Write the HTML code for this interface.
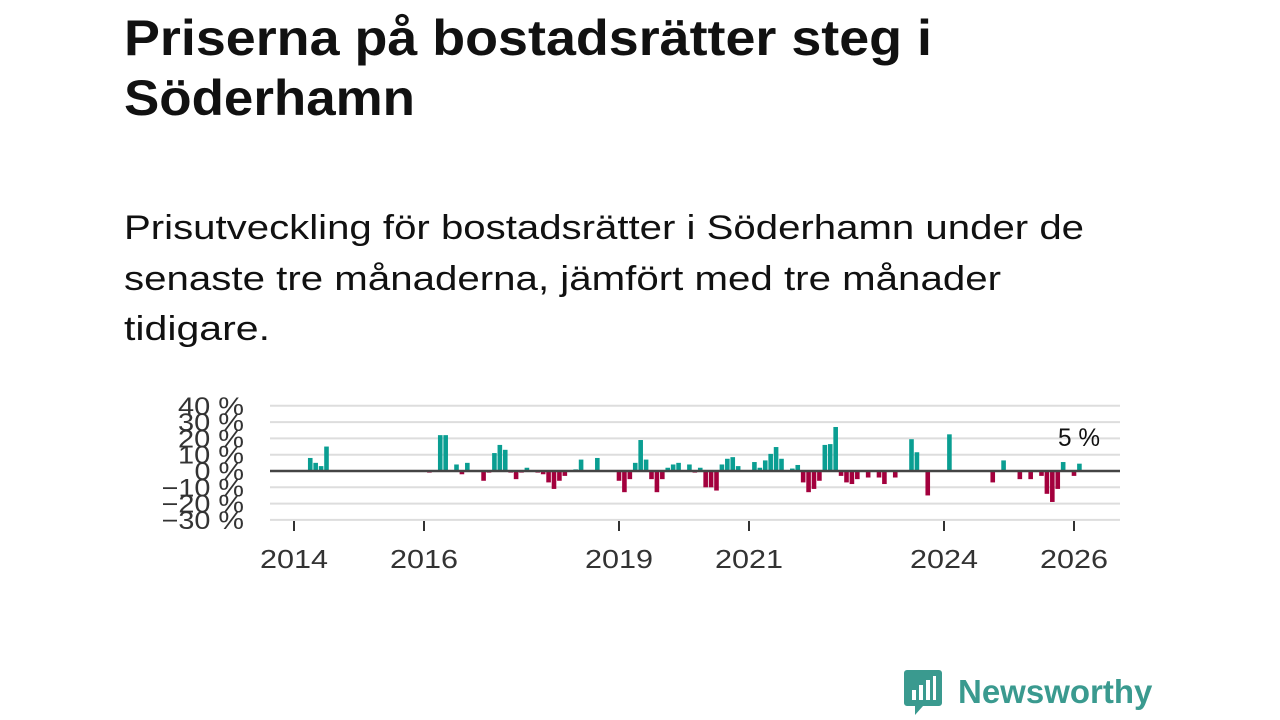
<!DOCTYPE html>
<html><head><meta charset="utf-8"><style>
body{margin:0;width:1280px;height:720px;background:#fff;font-family:"Liberation Sans",sans-serif;overflow:hidden;position:relative;color:#111}
</style></head><body>
<svg width="1280" height="360" style="position:absolute;left:0;top:0" font-family="Liberation Sans, sans-serif">
<text x="124" y="55" font-size="50" font-weight="bold" fill="#111" textLength="808" lengthAdjust="spacingAndGlyphs">Priserna på bostadsrätter steg i</text>
<text x="124" y="115" font-size="50" font-weight="bold" fill="#111" textLength="291" lengthAdjust="spacingAndGlyphs">Söderhamn</text>
<text x="124" y="239" font-size="34" fill="#111" textLength="960" lengthAdjust="spacingAndGlyphs">Prisutveckling för bostadsrätter i Söderhamn under de</text>
<text x="124" y="290" font-size="34" fill="#111" textLength="877" lengthAdjust="spacingAndGlyphs">senaste tre månaderna, jämfört med tre månader</text>
<text x="124" y="340" font-size="34" fill="#111" textLength="146" lengthAdjust="spacingAndGlyphs">tidigare.</text>
</svg>
<svg id="chart" width="1280" height="720" style="position:absolute;left:0;top:0" font-family="Liberation Sans, sans-serif"></svg>
<div style="position:absolute;left:903px;top:670px;height:44px;display:flex;align-items:center">
<svg width="40" height="48" viewBox="0 0 40 48"><path d="M4 2h32a3 3 0 0 1 3 3v30a3 3 0 0 1-3 3H20l-8 9v-9H4a3 3 0 0 1-3-3V5a3 3 0 0 1 3-3z" fill="#3a9a8f"/><rect x="9" y="22" width="4" height="10" fill="#fff"/><rect x="16" y="17" width="4" height="15" fill="#fff"/><rect x="23" y="12" width="4" height="20" fill="#fff"/><rect x="30" y="8" width="3" height="24" fill="#fff"/></svg>
<span style="margin-left:15px;font-size:33px;font-weight:bold;color:#3a9a8f">Newsworthy</span></div>
<script>
const months=[3,4,5,6,25,27,28,30,31,32,35,36,37,38,39,40,41,42,43,45,46,47,48,49,50,52,53,56,60,61,62,63,64,65,66,67,68,69,70,71,73,74,75,76,77,78,79,80,81,82,85,86,87,88,89,90,92,93,94,95,96,97,98,99,100,101,102,103,104,106,108,109,111,114,115,117,121,129,131,134,136,138,139,140,141,142,144,145];
const values=[8,5,3,15,-1,22,22,4,-2,5,-6,-1,11,16,13,-1,-5,-1,2,-1,-2,-7,-11,-6,-3,1,7,8,-6,-13,-5,5,19,7,-5,-13,-5,2,4,5,4,-1,2,-10,-10,-12,4,7.5,8.5,3,5.5,2,6.5,10.5,14.7,7.5,1.5,3.7,-7,-13,-11,-6,16,16.5,27,-3,-7,-8,-5,-4,-4,-8,-4,19.5,11.5,-15,22.5,-7,6.5,-5,-5,-3,-14,-19,-11,5.5,-3,4.5];
const yTicks=[40,30,20,10,0,-10,-20,-30];
const xYears=[2014,2016,2019,2021,2024,2026];
const svg=document.getElementById('chart');
const NS='http://www.w3.org/2000/svg';
const x=m=>294+m*65/12;
const y=v=>471-v*1.63;
function mk(t,a){const e=document.createElementNS(NS,t);for(const k in a)e.setAttribute(k,a[k]);svg.appendChild(e);return e;}
yTicks.forEach(t=>{
 if(t!==0){const g=mk('line',{x1:270,x2:1120,y1:y(t),y2:y(t),stroke:'#ddd','stroke-width':2});
 
 }
 const s=(t<0?'\u2212'+(-t):t)+' %';
 const l=mk('text',{x:244,y:y(t)+9,'text-anchor':'end','font-size':25,fill:'#333',textLength:s.length*16.5,lengthAdjust:'spacingAndGlyphs'});
 l.textContent=s;
 
 
});
months.forEach((m,i)=>{
 const v=values[i];
 const r=mk('rect',{x:x(m)-2.3,width:4.6,y:Math.min(y(v),y(0)),height:Math.max(Math.abs(y(v)-y(0)),1),fill:v>=0?'#0a9e92':'#a3003d'});
 
 
});
const z=mk('line',{x1:270,x2:1120,y1:y(0),y2:y(0),stroke:'#444','stroke-width':2.5});


xYears.forEach(yr=>{
 const px=x((yr-2014)*12);
 const t=mk('line',{x1:px,x2:px,y1:521,y2:531,stroke:'#333','stroke-width':2});
 
 
 const l=mk('text',{x:px,y:568,'text-anchor':'middle','font-size':26,fill:'#333',textLength:68,lengthAdjust:'spacingAndGlyphs'});
 l.textContent=yr;
 
 
});
const last=values[values.length-1];
const lb=mk('text',{x:1079,y:446,'text-anchor':'middle','font-size':25,fill:'#111',textLength:42,lengthAdjust:'spacingAndGlyphs'});
lb.textContent=Math.round(last)+' %';


</script>
</body></html>
